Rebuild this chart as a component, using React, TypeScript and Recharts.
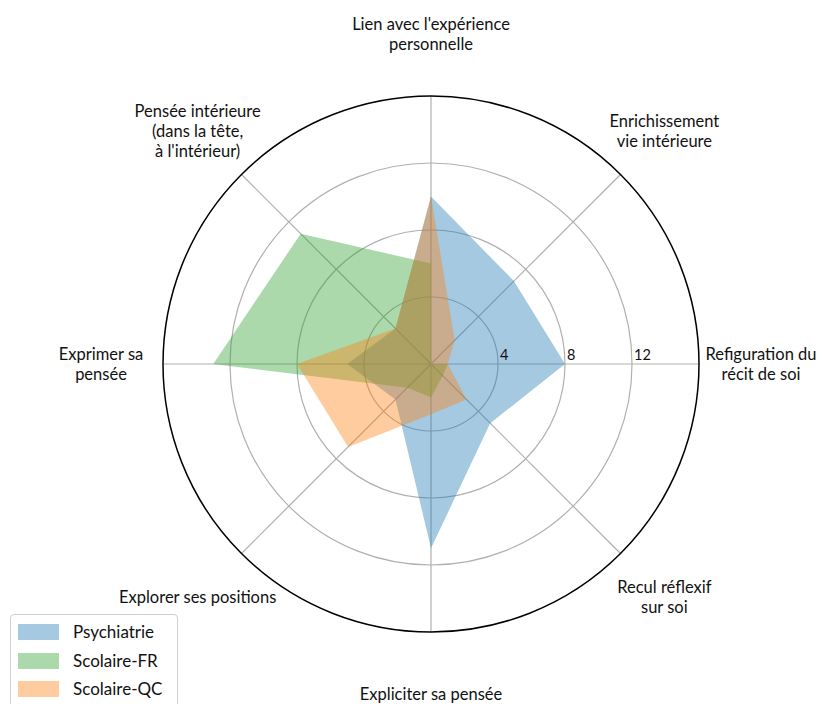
import React from "react";
import { RadarChart, Radar, PolarGrid, PolarAngleAxis, PolarRadiusAxis } from "recharts";

// axes go counter-clockwise starting at 3 o'clock
const categories = [
  "Refiguration du\nrécit de soi",
  "Enrichissement\nvie intérieure",
  "Lien avec l'expérience\npersonnelle",
  "Pensée intérieure\n(dans la tête,\nà l'intérieur)",
  "Exprimer sa\npensée",
  "Explorer ses positions",
  "Expliciter sa pensée",
  "Recul réflexif\nsur soi",
];

const psychiatrie = [8, 7, 10, 3, 5, 3, 11, 5];
const scolaireFR = [1, 0, 6, 11, 13, 2, 2, 1];
const scolaireQC = [1, 2, 10, 3, 8, 7, 3, 3];

const seriesNames = ["Psychiatrie", "Scolaire-FR", "Scolaire-QC"];
const seriesKeys = ["psychiatrie", "scolaireFR", "scolaireQC"];
const seriesColors = ["#1f77b4", "#2ca02c", "#ff7f0e"];

const radiusTicks = [4, 8, 12];
const radiusMax = 16;

const CX = 431;
const CY = 364;
const OUTER_R = 268;
const LABEL_R = 330;
const FONT = "Lato, 'DejaVu Sans', sans-serif";

const data = categories.map((axis, i) => ({
  axis,
  psychiatrie: psychiatrie[i],
  scolaireFR: scolaireFR[i],
  scolaireQC: scolaireQC[i],
}));

function AngleTick(props: any) {
  const { payload } = props;
  // same spacing as the polygon vertices: first category at 3 o'clock, counter-clockwise
  const idx = categories.indexOf(payload.value);
  const a = (idx / categories.length) * 2 * Math.PI;
  const x = CX + LABEL_R * Math.cos(a);
  const y = CY - LABEL_R * Math.sin(a);
  const lines = String(payload.value).split("\n");
  const lh = 20;
  return (
    <text x={x} y={y} textAnchor="middle" fontFamily={FONT} fontSize={16.5} fill="#111">
      {lines.map((l, i) => (
        <tspan key={i} x={x} y={y + (i - (lines.length - 1) / 2) * lh} dominantBaseline="central">
          {l}
        </tspan>
      ))}
    </text>
  );
}

function RadiusTick(props: any) {
  const { x, y, payload } = props;
  return (
    <text x={x + 2} y={y - 4} textAnchor="start" fontFamily={FONT} fontSize={14.5} fill="#111">
      {payload.value}
    </text>
  );
}

function LegendBox() {
  return (
    <div
      style={{
        position: "absolute",
        left: 10,
        top: 614,
        width: 166,
        height: 100,
        border: "1px solid #d0d0d0",
        borderRadius: 4,
        background: "rgba(255,255,255,0.8)",
        fontFamily: FONT,
        fontSize: 17,
        color: "#111",
      }}
    >
      {seriesNames.map((name, i) => (
        <div key={name} style={{ position: "absolute", left: 7, top: 9 + i * 28.5, display: "flex", alignItems: "center" }}>
          <span style={{ width: 41, height: 16, background: seriesColors[i], opacity: 0.4, display: "inline-block" }} />
          <span style={{ marginLeft: 14, lineHeight: "16px" }}>{name}</span>
        </div>
      ))}
    </div>
  );
}

export default function App() {
  const gridRadii = radiusTicks.map((t) => (OUTER_R * t) / radiusMax);
  return (
    <div style={{ position: "absolute", left: 0, top: 0, width: 823, height: 704, background: "#fff", overflow: "hidden" }}>
      <RadarChart
        width={823}
        height={704}
        cx={CX}
        cy={CY}
        outerRadius={OUTER_R}
        startAngle={-45}
        endAngle={315}
        data={data}
        margin={{ top: 0, right: 0, bottom: 0, left: 0 }}
      >
        {seriesKeys.map((k, i) => (
          <Radar
            key={k}
            name={seriesNames[i]}
            dataKey={k}
            stroke="none"
            fill={seriesColors[i]}
            fillOpacity={0.4}
            isAnimationActive={false}
          />
        ))}
        <PolarGrid gridType="circle" polarRadius={gridRadii} stroke="#b0b0b0" strokeWidth={1.2} />
        <PolarGrid gridType="circle" polarRadius={[OUTER_R]} radialLines={false} stroke="#000" strokeWidth={1.5} />
        <PolarAngleAxis dataKey="axis" tick={AngleTick} axisLine={false} tickLine={false} />
        <PolarRadiusAxis
          angle={0}
          domain={[0, radiusMax]}
          ticks={radiusTicks}
          axisLine={false}
          tick={RadiusTick}
          type="number"
        />
      </RadarChart>
      <LegendBox />
    </div>
  );
}
